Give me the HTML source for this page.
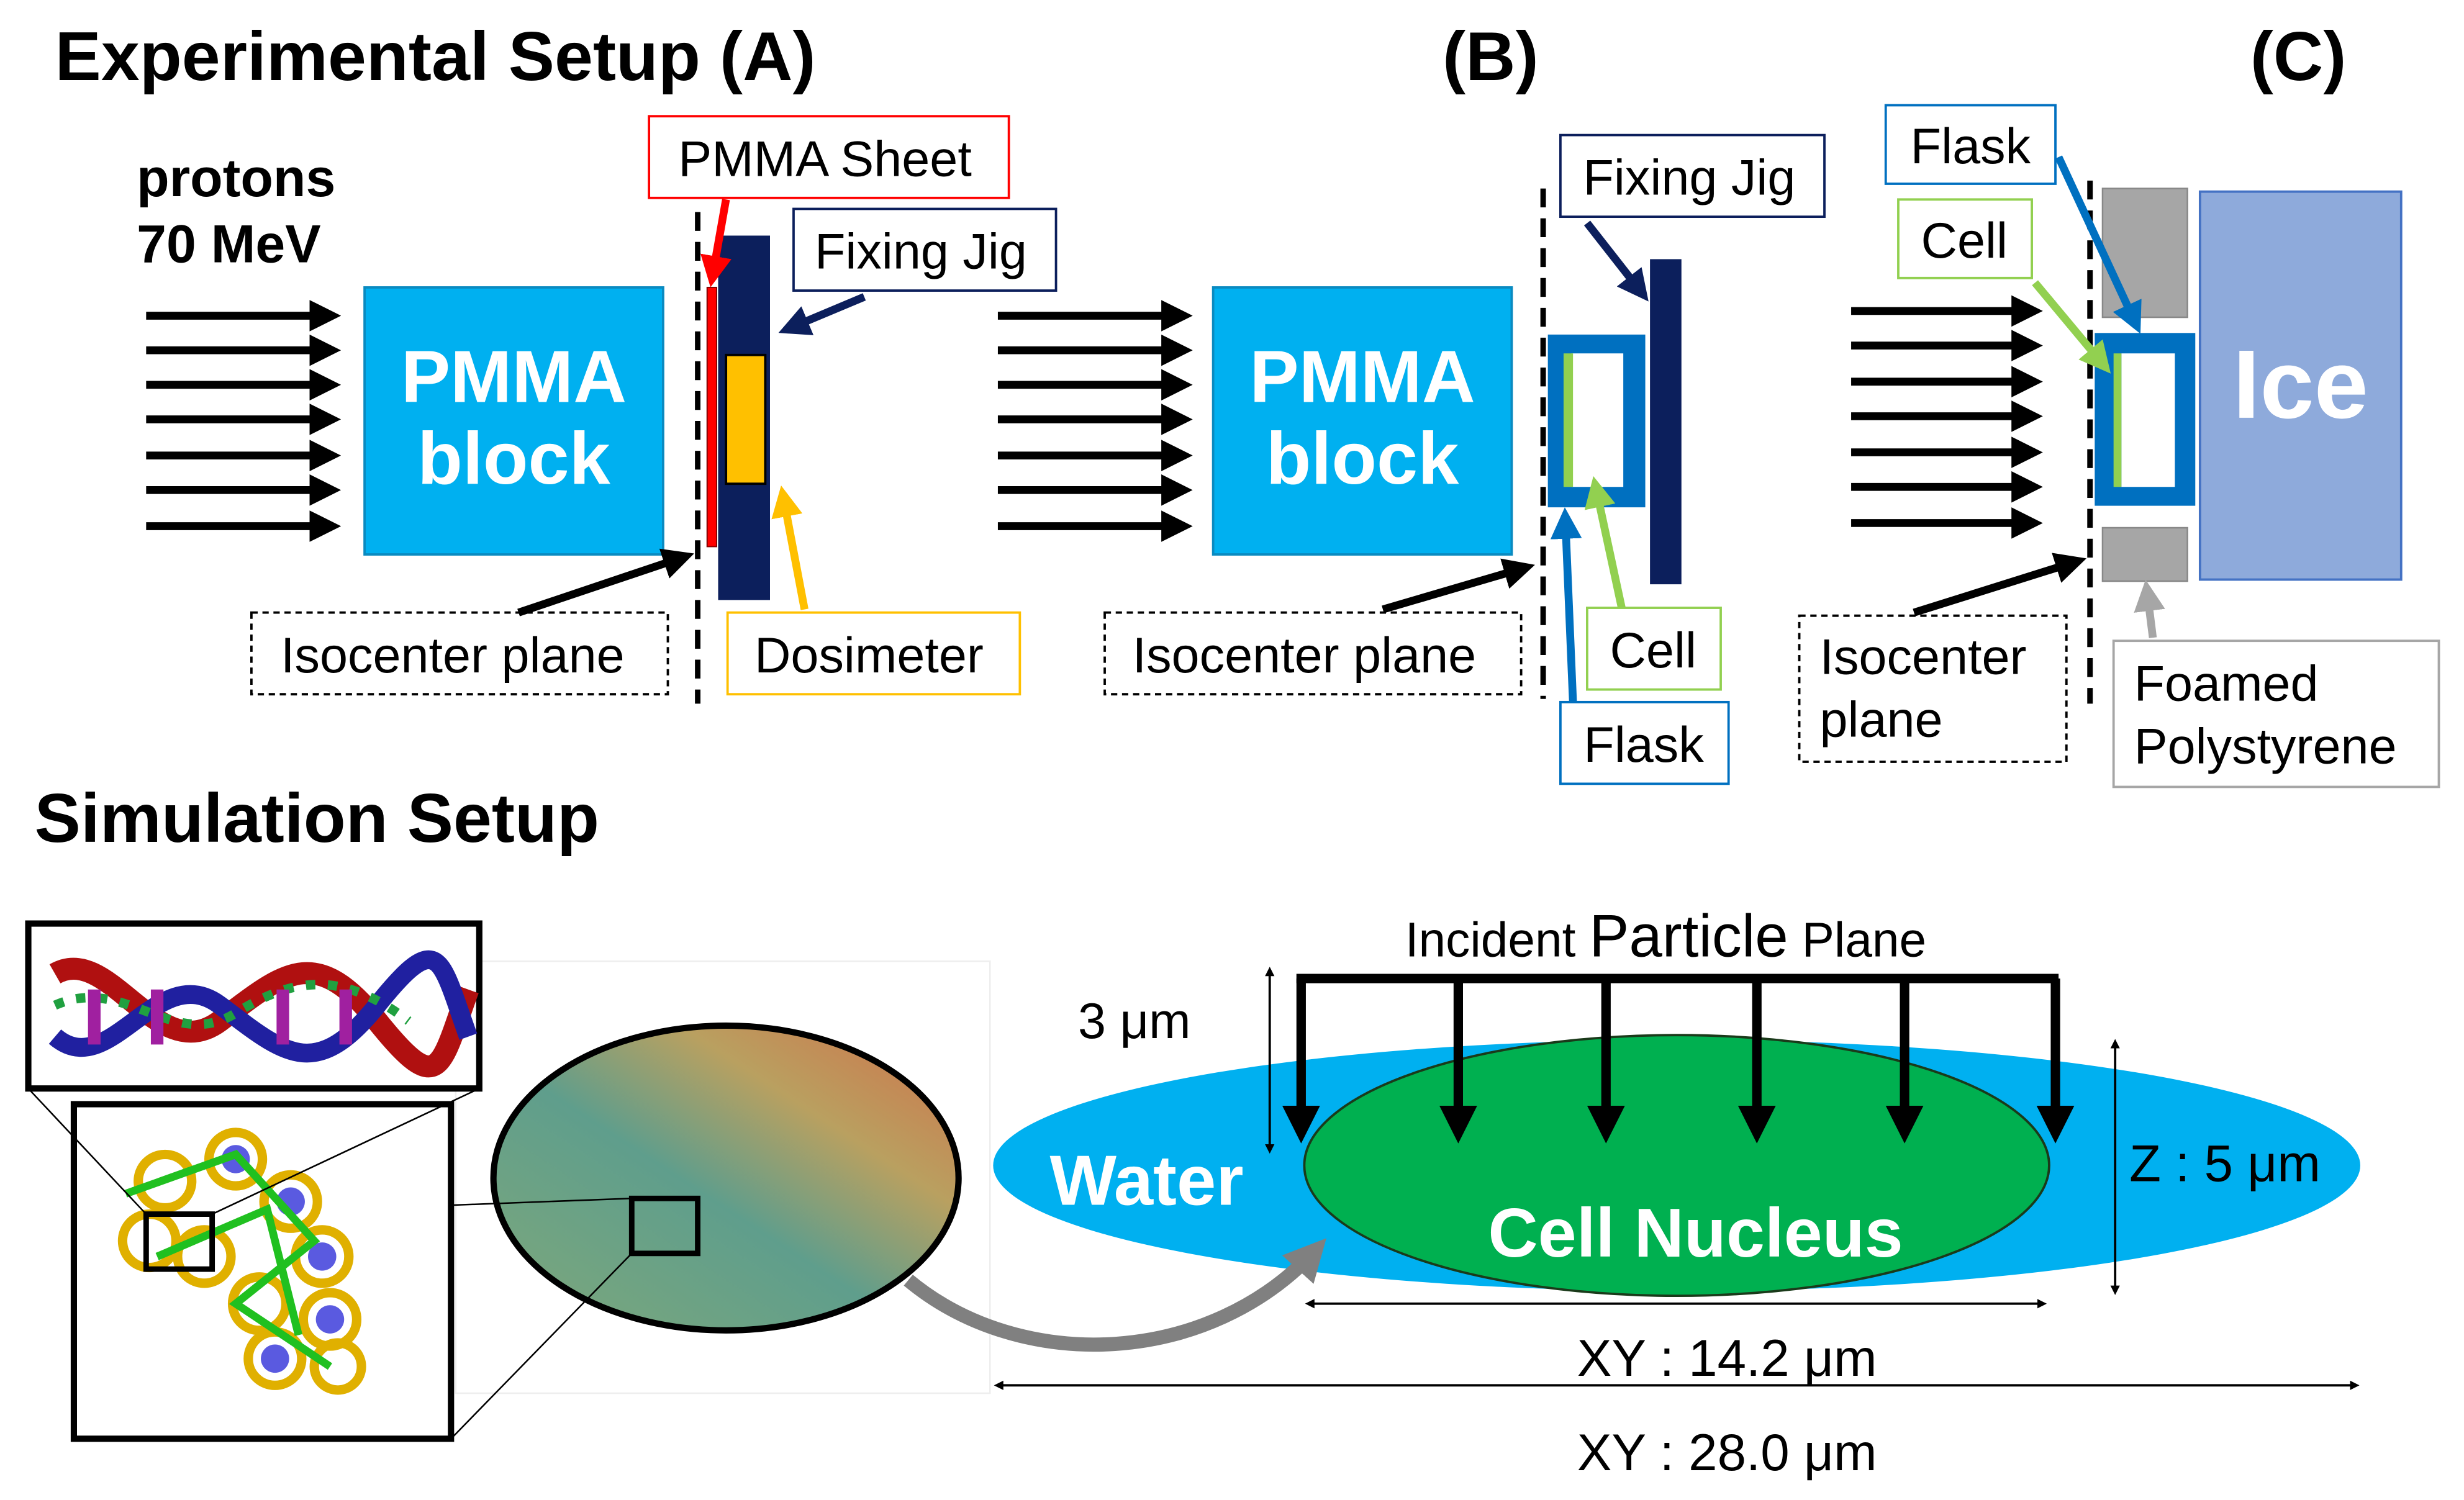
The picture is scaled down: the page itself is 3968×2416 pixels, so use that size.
<!DOCTYPE html>
<html><head><meta charset="utf-8"><style>
html,body{margin:0;padding:0;background:#fff;}
svg{display:block;font-family:"Liberation Sans",Arial,sans-serif;}
</style></head><body>
<svg width="3968" height="2416" viewBox="0 0 1568 955" preserveAspectRatio="none" xmlns="http://www.w3.org/2000/svg">
<defs>
<marker id="ak" markerWidth="4" markerHeight="4" refX="3" refY="2" orient="auto" markerUnits="strokeWidth"><path d="M0,0 L4,2 L0,4 z" fill="#000"/></marker>
<marker id="ak2" markerWidth="4" markerHeight="4" refX="1" refY="2" orient="auto-start-reverse" markerUnits="strokeWidth"><path d="M0,0 L4,2 L0,4 z" fill="#000"/></marker>
<marker id="ar" markerWidth="4" markerHeight="4" refX="3" refY="2" orient="auto" markerUnits="strokeWidth"><path d="M0,0 L4,2 L0,4 z" fill="#ff0000"/></marker>
<marker id="an" markerWidth="4" markerHeight="4" refX="3" refY="2" orient="auto" markerUnits="strokeWidth"><path d="M0,0 L4,2 L0,4 z" fill="#0c1f5c"/></marker>
<marker id="ay" markerWidth="4" markerHeight="4" refX="3" refY="2" orient="auto" markerUnits="strokeWidth"><path d="M0,0 L4,2 L0,4 z" fill="#ffc000"/></marker>
<marker id="ag" markerWidth="4" markerHeight="4" refX="3" refY="2" orient="auto" markerUnits="strokeWidth"><path d="M0,0 L4,2 L0,4 z" fill="#92d050"/></marker>
<marker id="ab" markerWidth="4" markerHeight="4" refX="3" refY="2" orient="auto" markerUnits="strokeWidth"><path d="M0,0 L4,2 L0,4 z" fill="#0070c0"/></marker>
<marker id="agr" markerWidth="4" markerHeight="4" refX="3" refY="2" orient="auto" markerUnits="strokeWidth"><path d="M0,0 L4,2 L0,4 z" fill="#a6a6a6"/></marker>
<marker id="agg" markerWidth="3" markerHeight="3" refX="2" refY="1.5" orient="auto" markerUnits="strokeWidth"><path d="M0,0 L3,1.5 L0,3 z" fill="#808080"/></marker>
<linearGradient id="cg" x1="0" y1="1" x2="1" y2="0">
<stop offset="0" stop-color="#7fa87a"/><stop offset="0.45" stop-color="#5f9e8c"/><stop offset="0.7" stop-color="#b9a060"/><stop offset="1" stop-color="#d0704a"/></linearGradient>
</defs>

<!-- Titles -->
<text x="35" y="51" font-size="44" font-weight="bold">Experimental Setup (A)</text>
<text x="918" y="51" font-size="44" font-weight="bold">(B)</text>
<text x="1432" y="51" font-size="44" font-weight="bold">(C)</text>
<text x="87" y="125" font-size="34" font-weight="bold">protons</text>
<text x="87" y="167" font-size="34" font-weight="bold">70 MeV</text>

<!-- arrows -->
<g stroke="#000" stroke-width="5" marker-end="url(#ak)">
<line x1="93" y1="201" x2="212" y2="201"/><line x1="93" y1="223" x2="212" y2="223"/><line x1="93" y1="245" x2="212" y2="245"/><line x1="93" y1="267" x2="212" y2="267"/><line x1="93" y1="290" x2="212" y2="290"/><line x1="93" y1="312" x2="212" y2="312"/><line x1="93" y1="335" x2="212" y2="335"/>
<line x1="635" y1="201" x2="754" y2="201"/><line x1="635" y1="223" x2="754" y2="223"/><line x1="635" y1="245" x2="754" y2="245"/><line x1="635" y1="267" x2="754" y2="267"/><line x1="635" y1="290" x2="754" y2="290"/><line x1="635" y1="312" x2="754" y2="312"/><line x1="635" y1="335" x2="754" y2="335"/>
<line x1="1178" y1="198" x2="1295" y2="198"/><line x1="1178" y1="220" x2="1295" y2="220"/><line x1="1178" y1="243" x2="1295" y2="243"/><line x1="1178" y1="265" x2="1295" y2="265"/><line x1="1178" y1="288" x2="1295" y2="288"/><line x1="1178" y1="310" x2="1295" y2="310"/><line x1="1178" y1="333" x2="1295" y2="333"/>
</g>

<!-- PMMA blocks -->
<rect x="232" y="183" width="190" height="170" fill="#00b0f0" stroke="#0a8ac0" stroke-width="1.5"/>
<text x="327" y="256" font-size="47" font-weight="bold" fill="#fff" text-anchor="middle">PMMA</text>
<text x="327" y="308" font-size="47" font-weight="bold" fill="#fff" text-anchor="middle">block</text>
<rect x="772" y="183" width="190" height="170" fill="#00b0f0" stroke="#0a8ac0" stroke-width="1.5"/>
<text x="867" y="256" font-size="47" font-weight="bold" fill="#fff" text-anchor="middle">PMMA</text>
<text x="867" y="308" font-size="47" font-weight="bold" fill="#fff" text-anchor="middle">block</text>

<!-- dashed planes -->
<g stroke="#000" stroke-width="3.5" stroke-dasharray="12,7">
<line x1="444" y1="135" x2="444" y2="448"/>
<line x1="982" y1="120" x2="982" y2="445"/>
<line x1="1330" y1="115" x2="1330" y2="448"/>
</g>

<!-- A jig -->
<rect x="450" y="183" width="6" height="165" fill="#ff0000" stroke="#800" stroke-width="0.8"/>
<rect x="457" y="150" width="33" height="232" fill="#0c1f5c"/>
<rect x="462" y="226" width="25" height="82" fill="#ffc000" stroke="#000" stroke-width="1.5"/>

<!-- A labels -->
<rect x="413" y="74" width="229" height="52" fill="#fff" stroke="#ff0000" stroke-width="1.5"/>
<text x="525" y="112" font-size="32" text-anchor="middle">PMMA Sheet</text>
<line x1="462" y1="127" x2="453" y2="178" stroke="#ff0000" stroke-width="5" marker-end="url(#ar)"/>
<rect x="505" y="133" width="167" height="52" fill="#fff" stroke="#0c1f5c" stroke-width="1.5"/>
<text x="586" y="171" font-size="32" text-anchor="middle">Fixing Jig</text>
<line x1="550" y1="189" x2="500" y2="210" stroke="#0c1f5c" stroke-width="5" marker-end="url(#an)"/>
<rect x="160" y="390" width="265" height="52" fill="#fff" stroke="#000" stroke-width="1.5" stroke-dasharray="4,3"/>
<text x="288" y="428" font-size="32" text-anchor="middle">Isocenter plane</text>
<line x1="330" y1="390" x2="437" y2="354" stroke="#000" stroke-width="5" marker-end="url(#ak)"/>
<rect x="463" y="390" width="186" height="52" fill="#fff" stroke="#ffc000" stroke-width="1.5"/>
<text x="553" y="428" font-size="32" text-anchor="middle">Dosimeter</text>
<line x1="512" y1="388" x2="498" y2="314" stroke="#ffc000" stroke-width="5" marker-end="url(#ay)"/>

<!-- B flask & jig -->
<rect x="985" y="213" width="62" height="110" fill="#0070c0"/>
<rect x="1000" y="225" width="33" height="85" fill="#fff"/>
<rect x="995" y="225" width="6" height="85" fill="#92d050"/>
<rect x="1050" y="165" width="20" height="207" fill="#0c1f5c"/>
<rect x="993" y="86" width="168" height="52" fill="#fff" stroke="#0c1f5c" stroke-width="1.5"/>
<text x="1075" y="124" font-size="32" text-anchor="middle">Fixing Jig</text>
<line x1="1010" y1="142" x2="1046" y2="188" stroke="#0c1f5c" stroke-width="5" marker-end="url(#an)"/>
<rect x="703" y="390" width="265" height="52" fill="#fff" stroke="#000" stroke-width="1.5" stroke-dasharray="4,3"/>
<text x="830" y="428" font-size="32" text-anchor="middle">Isocenter plane</text>
<line x1="880" y1="388" x2="972" y2="361" stroke="#000" stroke-width="5" marker-end="url(#ak)"/>
<rect x="1010" y="387" width="85" height="52" fill="#fff" stroke="#92d050" stroke-width="1.5"/>
<text x="1052" y="425" font-size="32" text-anchor="middle">Cell</text>
<line x1="1032" y1="387" x2="1015" y2="308" stroke="#92d050" stroke-width="5" marker-end="url(#ag)"/>
<rect x="993" y="447" width="107" height="52" fill="#fff" stroke="#0070c0" stroke-width="1.5"/>
<text x="1046" y="485" font-size="32" text-anchor="middle">Flask</text>
<line x1="1001" y1="447" x2="996" y2="328" stroke="#0070c0" stroke-width="5" marker-end="url(#ab)"/>

<!-- C -->
<rect x="1338" y="120" width="54" height="82" fill="#a6a6a6" stroke="#888"/>
<rect x="1338" y="336" width="54" height="34" fill="#a6a6a6" stroke="#888"/>
<rect x="1333" y="212" width="64" height="110" fill="#0070c0"/>
<rect x="1350" y="225" width="34" height="85" fill="#fff"/>
<rect x="1345" y="225" width="5" height="85" fill="#92d050"/>
<rect x="1400" y="122" width="128" height="247" fill="#8eaadb" stroke="#4472c4" stroke-width="1.5"/>
<text x="1464" y="266" font-size="62" font-weight="bold" fill="#fff" text-anchor="middle">Ice</text>
<rect x="1200" y="67" width="108" height="50" fill="#fff" stroke="#0070c0" stroke-width="1.5"/>
<text x="1254" y="104" font-size="32" text-anchor="middle">Flask</text>
<line x1="1310" y1="100" x2="1360" y2="208" stroke="#0070c0" stroke-width="5" marker-end="url(#ab)"/>
<rect x="1208" y="127" width="85" height="50" fill="#fff" stroke="#92d050" stroke-width="1.5"/>
<text x="1250" y="164" font-size="32" text-anchor="middle">Cell</text>
<line x1="1295" y1="180" x2="1340" y2="234" stroke="#92d050" stroke-width="5" marker-end="url(#ag)"/>
<rect x="1145" y="392" width="170" height="93" fill="#fff" stroke="#000" stroke-width="1.5" stroke-dasharray="4,3"/>
<text x="1158" y="429" font-size="32">Isocenter</text>
<text x="1158" y="469" font-size="32">plane</text>
<line x1="1218" y1="390" x2="1323" y2="357" stroke="#000" stroke-width="5" marker-end="url(#ak)"/>
<rect x="1345" y="408" width="207" height="93" fill="#fff" stroke="#a6a6a6" stroke-width="1.5"/>
<text x="1358" y="446" font-size="32">Foamed</text>
<text x="1358" y="486" font-size="32">Polystyrene</text>
<line x1="1370" y1="406" x2="1366" y2="374" stroke="#a6a6a6" stroke-width="5" marker-end="url(#agr)"/>

<!-- Simulation -->
<text x="22" y="536" font-size="44" font-weight="bold">Simulation Setup</text>

<rect x="290" y="612" width="340" height="275" fill="#fff" stroke="#eee" stroke-width="1"/>
<ellipse cx="462" cy="750" rx="148" ry="97" fill="url(#cg)" stroke="#000" stroke-width="4"/>
<rect x="402" y="763" width="42" height="35" fill="none" stroke="#000" stroke-width="3.5"/>
<line x1="135" y1="773" x2="402" y2="763" stroke="#000" stroke-width="1"/>
<line x1="287" y1="916" x2="402" y2="798" stroke="#000" stroke-width="1"/>

<rect x="47" y="703" width="240" height="213" fill="#fff" stroke="#000" stroke-width="4"/>
<g fill="none" stroke="#e0b000" stroke-width="6">
<circle cx="105" cy="752" r="17"/><circle cx="150" cy="738" r="17"/><circle cx="185" cy="765" r="17"/><circle cx="205" cy="800" r="17"/><circle cx="130" cy="800" r="17"/><circle cx="165" cy="830" r="17"/><circle cx="210" cy="840" r="17"/><circle cx="175" cy="865" r="17"/><circle cx="95" cy="790" r="17"/><circle cx="215" cy="870" r="15"/>
</g>
<g fill="#5a5ae0"><circle cx="150" cy="738" r="9"/><circle cx="185" cy="765" r="9"/><circle cx="205" cy="800" r="9"/><circle cx="210" cy="840" r="9"/><circle cx="175" cy="865" r="9"/></g>
<g stroke="#20c020" stroke-width="5" fill="none"><path d="M80,760 L150,735 L200,790 L150,830 L210,870"/><path d="M100,800 L170,770 L190,850"/></g>
<rect x="93" y="773" width="42" height="35" fill="none" stroke="#000" stroke-width="3.5"/>
<line x1="18" y1="693" x2="93" y2="773" stroke="#000" stroke-width="1"/>
<line x1="305" y1="693" x2="135" y2="773" stroke="#000" stroke-width="1"/>

<rect x="18" y="588" width="287" height="105" fill="#fff" stroke="#000" stroke-width="4"/>
<g>
<path d="M35,620 C70,600 100,680 140,650 S200,600 240,650 S280,680 298,630" stroke="#b01010" stroke-width="14" fill="none"/>
<path d="M35,660 C70,690 100,610 140,640 S200,690 240,640 S280,610 298,660" stroke="#2020a0" stroke-width="12" fill="none"/>
<path d="M35,640 C80,620 110,670 150,645 S220,620 260,650" stroke="#20a040" stroke-width="6" fill="none" stroke-dasharray="6,8"/>
<path d="M60,630 L60,665 M100,630 L100,665 M180,630 L180,665 M220,630 L220,665" stroke="#a020a0" stroke-width="8"/>
</g>

<ellipse cx="1067" cy="742" rx="435" ry="80" fill="#00b0f0"/>
<ellipse cx="1067" cy="742" rx="237" ry="83" fill="#00b050" stroke="#1a3a1a" stroke-width="1.5"/>
<text x="668" y="767" font-size="45" font-weight="bold" fill="#fff">Water</text>
<text x="1079" y="800" font-size="44" font-weight="bold" fill="#fff" text-anchor="middle">Cell Nucleus</text>

<path d="M578,815 C650,875 770,870 838,795" stroke="#808080" stroke-width="9" fill="none" marker-end="url(#agg)"/>

<line x1="825" y1="623" x2="1310" y2="623" stroke="#000" stroke-width="6"/>
<g stroke="#000" stroke-width="6" marker-end="url(#ak)">
<line x1="828" y1="623" x2="828" y2="722"/><line x1="928" y1="623" x2="928" y2="722"/><line x1="1022" y1="623" x2="1022" y2="722"/><line x1="1118" y1="623" x2="1118" y2="722"/><line x1="1212" y1="623" x2="1212" y2="722"/><line x1="1308" y1="623" x2="1308" y2="722"/>
</g>
<text x="1060" y="609" font-size="31" text-anchor="middle">Incident <tspan font-size="38">Particle</tspan> Plane</text>

<g stroke="#000" stroke-width="1.5" marker-start="url(#ak2)" marker-end="url(#ak)">
<line x1="808" y1="620" x2="808" y2="733"/>
<line x1="1346" y1="666" x2="1346" y2="823"/>
<line x1="835" y1="830" x2="1301" y2="830"/>
<line x1="637" y1="882" x2="1500" y2="882"/>
</g>
<text x="686" y="661" font-size="32">3 μm</text>
<text x="1355" y="752" font-size="33">Z : 5 μm</text>
<text x="1099" y="876" font-size="33" text-anchor="middle">XY : 14.2 μm</text>
<text x="1099" y="936" font-size="33" text-anchor="middle">XY : 28.0 μm</text>
</svg>
</body></html>
